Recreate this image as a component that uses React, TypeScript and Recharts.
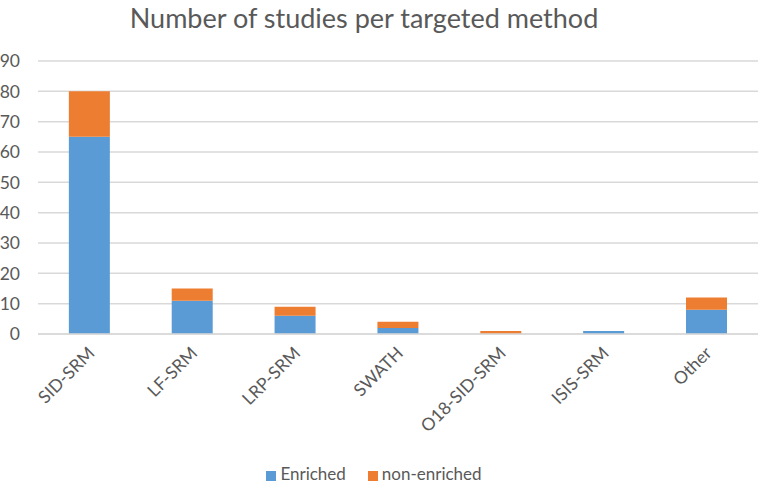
import React from 'react';
import { BarChart, Bar, XAxis, YAxis, CartesianGrid, Legend } from 'recharts';

const methods = ['SID-SRM', 'LF-SRM', 'LRP-SRM', 'SWATH', 'O18-SID-SRM', 'ISIS-SRM', 'Other'];
const enriched = [65, 11, 6, 2, 0, 1, 8];
const nonEnriched = [15, 4, 3, 2, 1, 0, 4];
const yTicks = [0, 10, 20, 30, 40, 50, 60, 70, 80, 90];

const data = methods.map((method, i) => ({
  method,
  enriched: enriched[i],
  nonEnriched: nonEnriched[i],
}));

const FONT = 'Lato, "Open Sans", sans-serif';
const TEXT = '#595959';

const XTick = (props: any) => {
  const { x, y, payload } = props;
  return (
    <g transform={`translate(${x + 2},${y + 8})`}>
      <text
        transform="rotate(-45)"
        textAnchor="end"
        fill={TEXT}
        fontSize={17.5}
        fontFamily={FONT}
        dy={6}
      >
        {payload.value}
      </text>
    </g>
  );
};

const App: React.FC = () => {
  return (
    <div style={{ position: 'absolute', left: 0, top: 0, width: 758, height: 484, background: '#fff' }}>
      <div
        style={{
          position: 'absolute',
          left: 0,
          width: 728,
          top: 1,
          textAlign: 'center',
          fontFamily: FONT,
          fontSize: 27,
          color: TEXT,
        }}
      >
        Number of studies per targeted method
      </div>
      <BarChart
        width={758}
        height={484}
        data={data}
        margin={{ top: 61, right: 0, left: 0, bottom: 0 }}
        barCategoryGap="30%"
      >
        <CartesianGrid vertical={false} stroke="#d9d9d9" strokeWidth={1.5} />
        <XAxis
          dataKey="method"
          tick={<XTick />}
          tickLine={false}
          axisLine={{ stroke: '#d9d9d9', strokeWidth: 1.5 }}
          interval={0}
          height={129}
        />
        <YAxis
          width={38}
          ticks={yTicks}
          domain={[0, 90]}
          interval={0}
          tickLine={false}
          axisLine={false}
          tickSize={0}
          tickMargin={18}
          tick={{ fill: TEXT, fontSize: 17.5, fontFamily: FONT }}
        />
        <Legend
          verticalAlign="bottom"
          iconType="square"
          iconSize={10}
          wrapperStyle={{ fontFamily: FONT, fontSize: 17, paddingLeft: 0 }}
          formatter={(value: string) => (
            <span style={{ color: TEXT, marginRight: value === 'Enriched' ? 12 : 0 }}>{value}</span>
          )}
        />
        <Bar dataKey="enriched" name="Enriched" stackId="a" fill="#5b9bd5" isAnimationActive={false} />
        <Bar dataKey="nonEnriched" name="non-enriched" stackId="a" fill="#ed7d31" isAnimationActive={false} />
      </BarChart>
    </div>
  );
};

export default App;
